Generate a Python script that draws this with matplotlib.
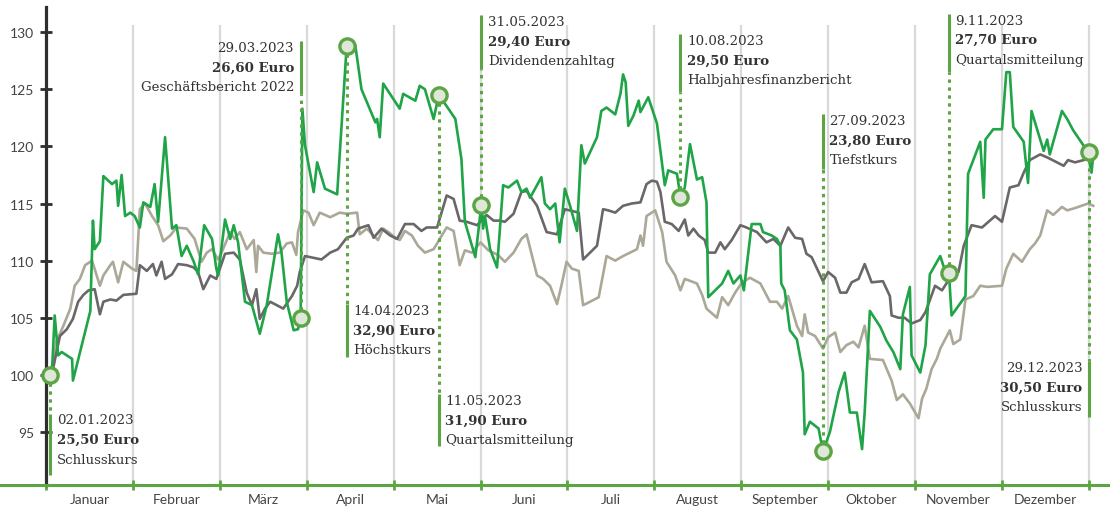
import matplotlib.pyplot as plt
from matplotlib.ticker import FixedLocator, NullFormatter

# x positions are in months (0 = start of January, 12 = end of December)
months = ['Januar', 'Februar', 'März', 'April', 'Mai', 'Juni', 'Juli',
          'August', 'September', 'Oktober', 'November', 'Dezember']
yticks = [95, 100, 105, 110, 115, 120, 125, 130]

aktie_x = [0.05, 0.07, 0.10, 0.14, 0.18, 0.24, 0.30, 0.31, 0.51, 0.54, 0.56, 0.62, 0.66, 0.76,
           0.81, 0.83, 0.87, 0.91, 0.97, 1.02, 1.08, 1.12, 1.20, 1.25, 1.29, 1.37, 1.45, 1.50,
           1.56, 1.62, 1.70, 1.75, 1.82, 1.91, 1.96, 1.98, 2.06, 2.12, 2.16, 2.21, 2.29, 2.37,
           2.46, 2.54, 2.67, 2.71, 2.77, 2.85, 2.90, 2.93, 2.95, 2.98, 3.08, 3.12, 3.21, 3.35,
           3.46, 3.56, 3.63, 3.79, 3.81, 3.84, 3.88, 4.07, 4.11, 4.25, 4.30, 4.36, 4.46, 4.52,
           4.63, 4.71, 4.78, 4.82, 4.94, 5.01, 5.03, 5.05, 5.11, 5.19, 5.26, 5.32, 5.42, 5.47,
           5.53, 5.57, 5.70, 5.74, 5.80, 5.86, 5.91, 5.97, 6.03, 6.11, 6.16, 6.20, 6.34, 6.39,
           6.45, 6.55, 6.61, 6.64, 6.67, 6.70, 6.76, 6.82, 6.84, 6.93, 7.03, 7.12, 7.16, 7.26,
           7.30, 7.35, 7.41, 7.49, 7.55, 7.60, 7.62, 7.78, 7.85, 7.91, 7.99, 8.03, 8.12, 8.22,
           8.25, 8.35, 8.41, 8.45, 8.46, 8.50, 8.56, 8.64, 8.71, 8.73, 8.79, 8.89, 8.94, 9.02,
           9.12, 9.19, 9.25, 9.33, 9.39, 9.42, 9.48, 9.60, 9.67, 9.75, 9.83, 9.86, 9.94, 9.96,
           10.06, 10.12, 10.17, 10.29, 10.35, 10.39, 10.42, 10.58, 10.61, 10.75, 10.79, 10.81,
           10.90, 11.00, 11.05, 11.09, 11.13, 11.25, 11.30, 11.34, 11.48, 11.52, 11.55, 11.69,
           11.75, 11.82, 11.99, 12.03, 12.05]
aktie_y = [100.0, 100.5, 105.2, 101.7, 102.0, 101.7, 101.4, 99.5, 105.6, 113.5, 111.0, 111.7,
           117.4, 116.7, 117.0, 114.8, 117.5, 113.9, 114.2, 113.9, 112.9, 115.1, 114.7, 116.7,
           113.4, 120.8, 112.8, 113.1, 110.4, 111.3, 109.9, 108.8, 113.1, 111.9, 109.3, 108.7,
           113.6, 111.9, 113.1, 111.6, 106.4, 106.1, 103.6, 106.1, 112.3, 110.7, 106.4, 103.9,
           104.0, 105.0, 123.3, 120.1, 116.0, 118.6, 116.3, 115.8, 128.8, 128.8, 125.0, 122.1,
           122.4, 120.8, 125.5, 123.3, 124.6, 124.0, 125.3, 125.0, 122.4, 124.5, 123.3, 122.4,
           118.9, 113.4, 110.3, 114.9, 112.8, 113.9, 111.0, 109.4, 116.6, 116.4, 117.0, 116.0,
           116.3, 115.5, 117.3, 115.0, 114.5, 115.0, 111.6, 116.3, 114.8, 112.6, 120.1, 118.5,
           120.8, 123.1, 123.4, 122.8, 124.6, 126.3, 125.6, 121.8, 122.7, 124.0, 123.0, 124.3,
           122.0, 116.6, 117.9, 117.6, 115.6, 116.4, 120.2, 117.1, 117.3, 115.1, 106.8, 108.0,
           109.1, 108.0, 108.7, 107.4, 113.2, 113.2, 112.5, 112.2, 111.9, 111.3, 108.0, 107.4,
           103.9, 103.1, 100.2, 94.8, 95.9, 95.3, 93.3, 95.0, 98.5, 100.2, 96.7, 96.7, 93.5,
           96.7, 105.6, 104.2, 103.0, 102.0, 100.5, 105.3, 107.7, 101.7, 100.2, 102.6, 108.8,
           110.4, 109.0, 108.9, 105.2, 106.9, 117.6, 120.4, 115.5, 120.6, 121.5, 121.5, 126.5,
           126.5, 121.7, 120.4, 116.8, 123.1, 119.6, 120.6, 119.3, 123.1, 122.4, 121.4, 119.5,
           117.7, 119.2]

index1_x = [0.05, 0.08, 0.16, 0.24, 0.31, 0.37, 0.43, 0.49, 0.56, 0.62, 0.66, 0.74, 0.81, 0.89,
            1.04, 1.08, 1.16, 1.23, 1.27, 1.33, 1.37, 1.45, 1.52, 1.62, 1.70, 1.75, 1.81, 1.89,
            1.96, 2.06, 2.16, 2.23, 2.31, 2.37, 2.42, 2.46, 2.52, 2.58, 2.73, 2.83, 2.89, 2.92,
            2.98, 3.17, 3.27, 3.36, 3.46, 3.54, 3.59, 3.71, 3.77, 3.86, 3.96, 4.04, 4.13, 4.23,
            4.32, 4.38, 4.50, 4.61, 4.69, 4.76, 4.84, 4.96, 5.07, 5.15, 5.22, 5.28, 5.38, 5.47,
            5.53, 5.65, 5.76, 5.88, 5.97, 6.13, 6.18, 6.26, 6.34, 6.41, 6.47, 6.55, 6.64, 6.74,
            6.84, 6.91, 6.97, 7.03, 7.07, 7.12, 7.20, 7.28, 7.35, 7.39, 7.45, 7.51, 7.58, 7.62,
            7.70, 7.76, 7.81, 7.89, 7.99, 8.06, 8.18, 8.29, 8.37, 8.45, 8.54, 8.62, 8.70, 8.75,
            8.81, 8.94, 9.00, 9.08, 9.14, 9.21, 9.27, 9.35, 9.42, 9.50, 9.63, 9.71, 9.73, 9.81,
            9.88, 9.96, 10.06, 10.12, 10.23, 10.31, 10.42, 10.50, 10.56, 10.65, 10.77, 10.92,
            11.00, 11.09, 11.19, 11.25, 11.32, 11.44, 11.53, 11.71, 11.76, 11.84, 11.99, 12.05]
index1_y = [100.0, 100.5, 103.4, 104.0, 104.9, 106.4, 107.0, 107.4, 107.5, 105.3, 106.4, 106.6,
            106.5, 107.0, 107.1, 109.6, 109.1, 109.7, 108.7, 109.9, 108.4, 108.8, 109.7, 109.6,
            109.4, 109.0, 107.5, 108.7, 108.4, 110.6, 110.7, 110.1, 107.2, 106.1, 107.5, 104.9,
            105.8, 106.4, 105.8, 106.9, 107.8, 109.0, 110.4, 110.1, 110.7, 111.0, 112.0, 112.2,
            112.8, 113.1, 112.0, 112.8, 112.2, 111.9, 113.2, 113.2, 112.6, 112.9, 112.9, 115.7,
            115.4, 113.5, 113.4, 113.1, 114.0, 113.5, 113.5, 113.4, 114.1, 116.0, 116.1, 114.8,
            112.5, 112.3, 114.5, 114.2, 110.1, 110.7, 111.3, 114.5, 114.4, 114.2, 114.8, 115.0,
            115.1, 116.7, 117.0, 116.9, 116.0, 113.4, 113.2, 112.6, 113.6, 112.2, 112.8, 112.2,
            111.8, 110.7, 110.7, 111.6, 111.0, 111.8, 113.1, 112.9, 112.5, 111.6, 111.9, 111.3,
            112.9, 112.0, 111.9, 110.6, 110.3, 108.2, 109.0, 108.5, 107.2, 107.2, 108.1, 108.4,
            109.7, 108.1, 108.2, 106.9, 105.2, 105.0, 105.0, 104.5, 104.8, 105.5, 107.8, 107.4,
            108.7, 109.0, 111.3, 113.1, 112.9, 113.9, 113.4, 116.4, 116.6, 117.7, 118.8, 119.3,
            119.0, 118.3, 118.8, 118.6, 118.9, 118.9]

index2_x = [0.05, 0.12, 0.20, 0.28, 0.33, 0.39, 0.45, 0.53, 0.62, 0.66, 0.74, 0.77, 0.83, 0.89,
            0.99, 1.04, 1.08, 1.14, 1.22, 1.29, 1.35, 1.43, 1.50, 1.62, 1.71, 1.79, 1.85, 1.91,
            1.98, 2.02, 2.12, 2.17, 2.23, 2.31, 2.39, 2.42, 2.44, 2.50, 2.60, 2.69, 2.77, 2.83,
            2.88, 2.90, 2.96, 3.02, 3.08, 3.15, 3.27, 3.38, 3.46, 3.58, 3.61, 3.69, 3.82, 3.88,
            3.94, 4.02, 4.07, 4.13, 4.21, 4.28, 4.36, 4.46, 4.61, 4.69, 4.76, 4.82, 4.90, 5.00,
            5.09, 5.20, 5.28, 5.38, 5.47, 5.53, 5.65, 5.72, 5.80, 5.88, 5.93, 5.99, 6.05, 6.13,
            6.18, 6.26, 6.36, 6.45, 6.55, 6.64, 6.80, 6.84, 6.87, 6.91, 7.01, 7.09, 7.14, 7.24,
            7.30, 7.35, 7.49, 7.55, 7.60, 7.72, 7.78, 7.85, 7.93, 8.01, 8.10, 8.22, 8.33, 8.41,
            8.47, 8.54, 8.64, 8.70, 8.73, 8.77, 8.85, 8.94, 9.00, 9.08, 9.14, 9.21, 9.29, 9.35,
            9.42, 9.48, 9.63, 9.73, 9.79, 9.86, 9.94, 10.04, 10.08, 10.13, 10.19, 10.25, 10.29,
            10.40, 10.44, 10.52, 10.58, 10.67, 10.75, 10.83, 11.00, 11.05, 11.13, 11.23, 11.32,
            11.38, 11.44, 11.52, 11.59, 11.69, 11.75, 11.84, 11.99, 12.05]
index2_y = [100.0, 102.9, 104.3, 105.8, 107.8, 108.4, 109.6, 110.0, 107.8, 108.7, 109.6, 109.9,
            108.1, 109.9, 109.3, 109.1, 114.5, 115.0, 113.9, 113.1, 111.7, 112.2, 112.9, 112.8,
            111.9, 109.9, 110.7, 111.0, 110.1, 110.7, 112.5, 111.9, 112.5, 111.0, 111.8, 109.0,
            111.3, 110.7, 110.6, 110.7, 111.5, 111.6, 110.5, 112.5, 114.4, 114.2, 113.1, 114.2,
            113.8, 114.2, 114.1, 114.2, 112.3, 112.8, 111.8, 112.8, 112.5, 112.0, 111.8, 112.6,
            112.2, 111.3, 110.7, 111.0, 112.9, 112.6, 109.6, 110.9, 110.7, 111.6, 110.9, 110.5,
            109.9, 110.7, 111.9, 112.3, 108.7, 108.4, 107.8, 106.2, 107.8, 109.9, 109.3, 109.1,
            106.1, 106.4, 106.8, 110.4, 110.0, 110.4, 111.0, 112.2, 111.3, 113.9, 114.4, 112.5,
            109.9, 108.7, 107.4, 108.4, 108.0, 107.0, 105.8, 105.0, 106.8, 106.1, 107.2, 108.1,
            108.5, 108.0, 106.4, 106.4, 105.8, 106.9, 104.3, 103.4, 105.3, 103.7, 103.4, 102.3,
            103.3, 103.7, 102.0, 102.6, 102.9, 102.4, 104.3, 101.4, 101.3, 99.5, 97.8, 98.3,
            97.5, 96.2, 97.9, 98.8, 100.5, 101.4, 102.3, 103.9, 102.7, 103.1, 106.6, 106.9,
            107.8, 107.7, 107.8, 109.3, 110.6, 109.9, 111.0, 111.5, 112.2, 114.4, 114.0, 114.7,
            114.4, 114.6, 115.0, 114.8]

# annotated events
ev_x = [0.05, 2.93, 3.46, 4.52, 5.01, 7.30, 8.94, 10.39, 12.0]
ev_y = [100.0, 105.0, 128.8, 124.5, 114.9, 115.6, 93.3, 108.9, 119.5]
ev_date = ['02.01.2023', '29.03.2023', '14.04.2023', '11.05.2023', '31.05.2023',
           '10.08.2023', '27.09.2023', '9.11.2023', '29.12.2023']
ev_price = ['25,50 Euro', '26,60 Euro', '32,90 Euro', '31,90 Euro', '29,40 Euro',
            '29,50 Euro', '23,80 Euro', '27,70 Euro', '30,50 Euro']
ev_label = ['Schlusskurs', 'Geschäftsbericht 2022', 'Höchstkurs', 'Quartalsmitteilung',
            'Dividendenzahltag', 'Halbjahresfinanzbericht', 'Tiefstkurs',
            'Quartalsmitteilung', 'Schlusskurs']
# label placement: solid bar (top, bottom), side of the text
bar_top = [96.6, 129.2, 106.2, 98.3, 131.5, 129.8, 122.8, 131.6, 101.2]
bar_bot = [91.2, 124.6, 101.6, 93.8, 126.8, 124.8, 118.0, 126.5, 96.3]
side = ['r', 'l', 'r', 'r', 'r', 'r', 'r', 'r', 'l']

c_green = '#1fa447'
c_dark = '#6b6769'
c_light = '#aba898'
c_ann = '#5ba545'
c_text = '#333333'

fig = plt.figure(figsize=(11.12, 5.10), dpi=100)
ax = fig.add_axes([0, 24 / 510, 1108 / 1112, 478 / 510])
ax.set_xlim(-46 / 86.9, 12.22)
ax.set_ylim(90.36, 132.2)

# month gridlines
ax.vlines(range(1, 13), 90.36, 130.6, color='#d9d9d9', lw=1.6, zorder=1)

ax.plot(index2_x, index2_y, color=c_light, lw=1.9, zorder=2, solid_joinstyle='round')
ax.plot(index1_x, index1_y, color=c_dark, lw=1.9, zorder=3, solid_joinstyle='round')
ax.plot(aktie_x, aktie_y, color=c_green, lw=1.9, zorder=4, solid_joinstyle='round')

for i in range(len(ev_x)):
    x = ev_x[i]
    ax.plot([x, x], [bar_bot[i], bar_top[i]], color=c_ann, lw=2.2,
            solid_capstyle='butt', zorder=5)
    if ev_y[i] > bar_top[i]:
        ax.plot([x, x], [ev_y[i], bar_top[i]], color=c_ann, lw=2.2,
                ls=(0, (1.1, 1.5)), zorder=5)
    else:
        ax.plot([x, x], [ev_y[i], bar_bot[i]], color=c_ann, lw=2.2,
                ls=(0, (1.1, 1.5)), zorder=5)
    if side[i] == 'r':
        tx, ha = x + 0.075, 'left'
    else:
        tx, ha = x - 0.075, 'right'
    y0 = bar_top[i] - 0.55
    for j, (t, w) in enumerate([(ev_date[i], 'normal'), (ev_price[i], 'bold'),
                                (ev_label[i], 'normal')]):
        ax.text(tx, y0 - j * 1.71, t, ha=ha, va='center', fontsize=9.6,
                family='DejaVu Serif', fontweight=w, color=c_text, zorder=6)

ax.plot(ev_x, ev_y, 'o', ms=11, mfc='#dfe7d9', mec=c_ann, mew=2.4, zorder=7)

for s in ['top', 'right']:
    ax.spines[s].set_visible(False)
ax.spines['left'].set_position(('data', 0))
ax.spines['left'].set_color('#2e2e2e')
ax.spines['left'].set_linewidth(2.3)
ax.spines['bottom'].set_color(c_ann)
ax.spines['bottom'].set_linewidth(2.2)

ax.set_yticks(yticks)
ax.tick_params(axis='y', direction='inout', length=9, width=2.0, color='#2e2e2e',
               labelsize=10, labelcolor='#444444', pad=4)
ax.xaxis.set_major_locator(FixedLocator(range(0, 13)))
ax.xaxis.set_major_formatter(NullFormatter())
ax.xaxis.set_minor_locator(FixedLocator([m + 0.5 for m in range(12)]))
ax.set_xticklabels(months, minor=True)
ax.tick_params(axis='x', which='major', direction='inout', length=7, width=2.0, color=c_ann)
ax.tick_params(axis='x', which='minor', length=0, pad=6, labelsize=10, labelcolor='#444444')
for lab in ax.get_xticklabels(minor=True) + ax.get_yticklabels():
    lab.set_family('Lato')

fig.savefig('out.png', dpi=100)
